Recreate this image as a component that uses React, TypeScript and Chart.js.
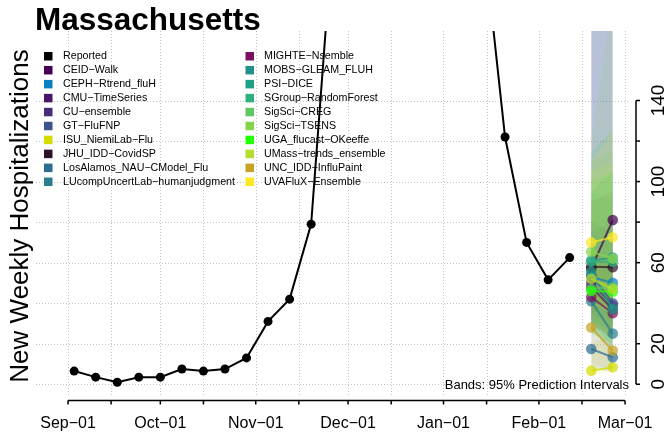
import React, { useEffect, useRef } from "react";
import { Chart, registerables } from "chart.js";

Chart.register(...registerables);

const FONT = '"Liberation Sans", Arial, Helvetica, sans-serif';
const SEASON_START = Date.UTC(2022, 8, 1);
const toDay = (iso: string) => (Date.parse(iso + "T00:00:00Z") - SEASON_START) / 86400000;

// ---------- data ----------
const reportedDates = [
  "2022-09-03", "2022-09-10", "2022-09-17", "2022-09-24", "2022-10-01", "2022-10-08",
  "2022-10-15", "2022-10-22", "2022-10-29", "2022-11-05", "2022-11-12", "2022-11-19",
  "2022-11-26", "2022-12-03", "2022-12-10", "2022-12-17", "2022-12-24", "2022-12-31",
  "2023-01-07", "2023-01-14", "2023-01-21", "2023-01-28", "2023-02-04", "2023-02-11",
];
const reportedValues = [
  6.5, 3.5, 1, 3.5, 3.5, 7.5, 6.5, 7.5, 13, 31, 42, 79,
  221, 410, 480, 430, 400, 420, 330, 220, 122, 70, 51.5, 62.5,
];

const forecastDates = ["2023-02-18", "2023-02-25"];

const modelNames = [
  "CEID−Walk", "CEPH−Rtrend_fluH", "CMU−TimeSeries", "CU−ensemble", "GT−FluFNP",
  "ISU_NiemiLab−Flu", "JHU_IDD−CovidSP", "LosAlamos_NAU−CModel_Flu",
  "LUcompUncertLab−humanjudgment", "MIGHTE−Nsemble", "MOBS−GLEAM_FLUH", "PSI−DICE",
  "SGroup−RandomForest", "SigSci−CREG", "SigSci−TSENS", "UGA_flucast−OKeeffe",
  "UMass−trends_ensemble", "UNC_IDD−InfluPaint", "UVAFluX−Ensemble",
];
const modelColors = [
  "#440154", "#0B7FC0", "#481668", "#472C7A", "#3B528B",
  "#D2DC00", "#2D1228", "#2C6E91",
  "#287E8E", "#7B1060", "#21918C", "#1FA187",
  "#2DB27D", "#5EC962", "#84D44B", "#22FF00",
  "#B4DE2C", "#C8A224", "#FDE725",
];
const medianH1 = [57, 53, 48, 50, 54, 6.7, 58, 17.4, 41, 43, 61, 55.5, 60.5, 47, 65.4, 46, 52, 28, 70];
const medianH2 = [81, 50, 37, 39, 40, 8.4, 57.7, 13.3, 25, 35, 62.5, 37, 60.5, 48, 62, 45.7, 47, 16.6, 72.5];
const lowerH1 = [35, 30, 30, 32, 35, 5, 40, 8, 28, 30, 40, 30, 28, 25, 30, 25, 30, 10, 40];
const lowerH2 = [40, 25, 22, 25, 28, 6, 38, 6, 15, 22, 35, 18, 25, 20, 25, 20, 22, 7, 35];
const upperH1 = [260, 220, 80, 75, 200, 20, 90, 40, 60, 65, 95, 95, 115, 110, 120, 100, 105, 60, 110];
const upperH2 = [300, 260, 75, 80, 240, 25, 95, 35, 50, 60, 105, 90, 125, 115, 190, 105, 110, 50, 125];

const monthTickDates = [
  "2022-09-01", "2022-10-01", "2022-11-01", "2022-12-01", "2023-01-01", "2023-02-01", "2023-03-01",
];
const monthTickLabels = ["Sep−01", "Oct−01", "Nov−01", "Dec−01", "Jan−01", "Feb−01", "Mar−01"];
const midTickDates = [
  "2022-09-15", "2022-10-15", "2022-11-15", "2022-12-15", "2023-01-15", "2023-02-15",
];
const yTickValues = [0, 20, 40, 60, 80, 100, 120, 140];
const yLabelValues = [0, 20, 60, 100, 140];
const X_MIN_DAY = -10.4;
const X_MAX_DAY = 182.6;
const Y_MIN = -5.8;
const Y_MAX = 174.3;

const titleText = "Massachusetts";
const yTitleText = "New Weekly Hospitalizations";
const bandNote = "Bands: 95% Prediction Intervals";

function hexA(hex: string, a: number) {
  const r = parseInt(hex.slice(1, 3), 16);
  const g = parseInt(hex.slice(3, 5), 16);
  const b = parseInt(hex.slice(5, 7), 16);
  return `rgba(${r},${g},${b},${a})`;
}

const rStylePlugin = {
  id: "rStyle",
  beforeDatasetsDraw(chart: any) {
    const { ctx, chartArea: a, scales } = chart;
    const xs = scales.x;
    const ys = scales.y;
    ctx.save();
    ctx.strokeStyle = "#C4C4C4";
    ctx.lineWidth = 1;
    ctx.setLineDash([1, 2]);
    const days = [...monthTickDates, ...midTickDates].map(toDay);
    for (const d of days) {
      const px = Math.round(xs.getPixelForValue(d)) + 0.5;
      ctx.beginPath();
      ctx.moveTo(px, a.top);
      ctx.lineTo(px, a.bottom);
      ctx.stroke();
    }
    for (const v of yTickValues) {
      const py = Math.round(ys.getPixelForValue(v)) + 0.5;
      ctx.beginPath();
      ctx.moveTo(a.left, py);
      ctx.lineTo(a.right, py);
      ctx.stroke();
    }
    ctx.restore();
  },
  afterDatasetsDraw(chart: any) {
    const { ctx, chartArea: a, scales } = chart;
    const xs = scales.x;
    const ys = scales.y;
    ctx.save();
    ctx.setLineDash([]);
    ctx.strokeStyle = "#000";
    ctx.fillStyle = "#000";
    ctx.lineWidth = 1.5;

    // bottom axis
    const axY = a.bottom + 4.5;
    const allDays = [...monthTickDates, ...midTickDates].map(toDay);
    const x0 = xs.getPixelForValue(toDay(monthTickDates[0]));
    const x1 = xs.getPixelForValue(toDay(monthTickDates[monthTickDates.length - 1]));
    ctx.beginPath();
    ctx.moveTo(x0, axY);
    ctx.lineTo(x1, axY);
    ctx.stroke();
    for (const d of allDays) {
      const px = xs.getPixelForValue(d);
      ctx.beginPath();
      ctx.moveTo(px, axY);
      ctx.lineTo(px, axY + 4);
      ctx.stroke();
    }
    ctx.font = `16px ${FONT}`;
    ctx.textAlign = "center";
    ctx.textBaseline = "alphabetic";
    monthTickDates.forEach((d, i) => {
      ctx.fillText(monthTickLabels[i], xs.getPixelForValue(toDay(d)), 428);
    });

    // right axis
    const axX = a.right + 6;
    const y0 = ys.getPixelForValue(yTickValues[0]);
    const y1 = ys.getPixelForValue(yTickValues[yTickValues.length - 1]);
    ctx.beginPath();
    ctx.moveTo(axX, y0);
    ctx.lineTo(axX, y1);
    ctx.stroke();
    for (const v of yTickValues) {
      const py = ys.getPixelForValue(v);
      ctx.beginPath();
      ctx.moveTo(axX, py);
      ctx.lineTo(axX + 4, py);
      ctx.stroke();
    }
    ctx.font = `19px ${FONT}`;
    for (const v of yLabelValues) {
      const py = ys.getPixelForValue(v);
      ctx.save();
      ctx.translate(664, py);
      ctx.rotate(-Math.PI / 2);
      ctx.textAlign = "center";
      ctx.fillText(String(v), 0, 0);
      ctx.restore();
    }

    // y title
    ctx.save();
    ctx.font = `26px ${FONT}`;
    ctx.translate(28, 216);
    ctx.rotate(-Math.PI / 2);
    ctx.textAlign = "center";
    ctx.fillText(yTitleText, 0, 0);
    ctx.restore();

    // title
    ctx.font = `bold 31.5px ${FONT}`;
    ctx.textAlign = "left";
    ctx.fillText(titleText, 35, 30);

    // band note
    ctx.font = `13px ${FONT}`;
    ctx.textAlign = "right";
    ctx.fillText(bandNote, 629, 389);

    // legend
    const entries = [{ name: "Reported", color: "#000000" }].concat(
      modelNames.map((n, i) => ({ name: n, color: modelColors[i] }))
    );
    ctx.font = `10.7px ${FONT}`;
    ctx.textAlign = "left";
    ctx.textBaseline = "middle";
    entries.forEach((e, i) => {
      const col = i < 10 ? 0 : 1;
      const row = i < 10 ? i : i - 10;
      const sx = col === 0 ? 44 : 245.5;
      const tx = col === 0 ? 63 : 264;
      const cy = 56 + row * 13.95;
      ctx.fillStyle = e.color;
      ctx.fillRect(sx, cy - 4, 8.5, 8.5);
      ctx.fillStyle = "#000";
      ctx.fillText(e.name, tx, cy + 0.5);
    });
    ctx.restore();
  },
};

export default function App() {
  const canvasRef = useRef<HTMLCanvasElement | null>(null);

  useEffect(() => {
    const canvas = canvasRef.current;
    if (!canvas) return;
    const fx = forecastDates.map(toDay);

    const datasets: any[] = [];
    datasets.push({
      label: "Reported",
      data: reportedDates.map((d, i) => ({ x: toDay(d), y: reportedValues[i] })),
      borderColor: "#000",
      backgroundColor: "#000",
      borderWidth: 2,
      pointRadius: 4.5,
      pointBorderWidth: 0,
      fill: false,
      tension: 0,
    });
    for (let i = modelNames.length - 1; i >= 0; i--) {
      datasets.push({
        label: modelNames[i],
        data: [
          { x: fx[0], y: medianH1[i] },
          { x: fx[1], y: medianH2[i] },
        ],
        borderColor: hexA(modelColors[i], 0.72),
        backgroundColor: hexA(modelColors[i], 0.72),
        borderWidth: 2,
        pointRadius: 5.3,
        pointBorderWidth: 0,
        fill: false,
      });
    }
    for (let k = modelNames.length - 1; k >= 0; k--) {
      const lowerIndex = datasets.length;
      datasets.push({
        label: modelNames[k] + " lower",
        data: [
          { x: fx[0], y: lowerH1[k] },
          { x: fx[1], y: lowerH2[k] },
        ],
        borderWidth: 0,
        borderColor: "rgba(0,0,0,0)",
        pointRadius: 0,
        fill: false,
      });
      datasets.push({
        label: modelNames[k] + " upper",
        data: [
          { x: fx[0], y: upperH1[k] },
          { x: fx[1], y: upperH2[k] },
        ],
        borderWidth: 0,
        borderColor: "rgba(0,0,0,0)",
        backgroundColor: hexA(modelColors[k], 0.13),
        pointRadius: 0,
        fill: lowerIndex,
      });
    }

    const chart = new Chart(canvas, {
      type: "line",
      data: { datasets },
      options: {
        responsive: false,
        animation: false,
        devicePixelRatio: 1,
        layout: { padding: { left: 36, right: 36, top: 31, bottom: 37 } },
        plugins: { legend: { display: false }, tooltip: { enabled: false } },
        scales: {
          x: { type: "linear", min: X_MIN_DAY, max: X_MAX_DAY, display: false },
          y: { type: "linear", min: Y_MIN, max: Y_MAX, display: false },
        },
      },
      plugins: [rStylePlugin],
    });
    return () => chart.destroy();
  }, []);

  return (
    <div style={{ position: "fixed", left: 0, top: 0, width: 666, height: 433, background: "#fff" }}>
      <canvas ref={canvasRef} width={666} height={433} />
    </div>
  );
}
